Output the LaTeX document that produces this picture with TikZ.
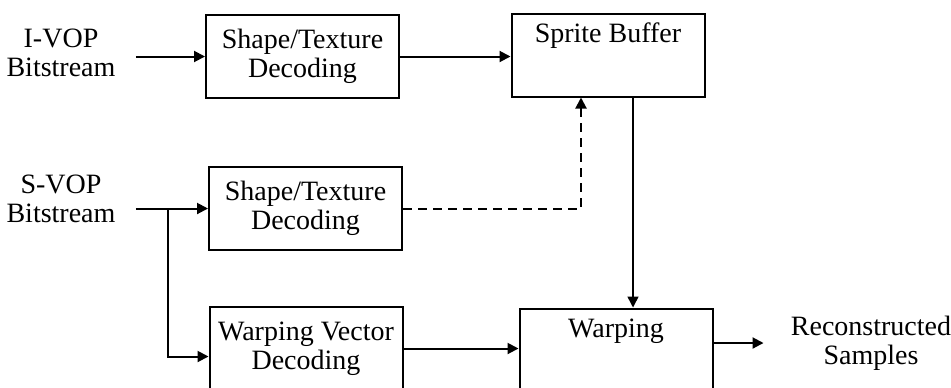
\documentclass[tikz,border=0pt]{standalone}
\usepackage{fontspec}
\setmainfont{Liberation Serif}
\usetikzlibrary{arrows.meta}

\begin{document}
\begin{tikzpicture}[x=0.5pt,y=-0.5pt,
    font=\fontsize{14}{14.5}\selectfont,
    block/.style={draw,line width=1pt,minimum width=96.5pt,minimum height=41.5pt,align=center,inner sep=0pt},
    topblock/.style={block,text height=10pt,text depth=23pt,inner ysep=4pt},
    lbl/.style={align=center,inner sep=0pt},
    arr/.style={line width=1pt,-{Triangle[length=5.5pt,width=5.5pt]}}]

    \useasboundingbox (0,0) rectangle (951,387);
    \clip (0,0) rectangle (951,387);

    % inputs
    \node [lbl] (ivop) at (61,53) {I-VOP\\Bitstream};
    \node [lbl] (svop) at (61,199) {S-VOP\\Bitstream};

    % blocks
    \node [block] (shapeI) at (302.5,56.5) {Shape/Texture\\Decoding};
    \node [topblock] (sprite) at (608,55) {Sprite Buffer};
    \node [block] (shapeS) at (305.5,208.5) {Shape/Texture\\Decoding};
    \node [block] (warpvec) at (306,348.5) {Warping Vector\\Decoding};
    \node [topblock] (warp) at (616,350) {Warping};

    % output
    \node [lbl] (recon) at (871,343) {Reconstructed\\Samples};

    % I-VOP path
    \draw [arr,shorten <=10pt] (ivop.east |- shapeI.west) -- (shapeI.west);
    \draw [arr] (shapeI.east) -- (shapeI.east -| sprite.west);

    % S-VOP path
    \coordinate (split) at (168,208);
    \draw [arr,shorten <=10pt] (svop.east |- shapeS.west) -- (shapeS.west);
    \draw [arr] (split) |- ([yshift=-4pt]warpvec.west);
    \draw [arr,dashed,dash pattern=on 4.5pt off 3pt] (shapeS.east) -| ([xshift=-13.5pt]sprite.south);

    % warping
    \draw [arr,line width=0.75pt] ([xshift=12.5pt]sprite.south) -- ([xshift=12.5pt]sprite.south |- warp.north);
    \draw [arr] (warpvec.east) -- (warpvec.east -| warp.west);
    \draw [arr,shorten >=13.5pt] (warp.east |- recon.west) -- (recon.west);

\end{tikzpicture}
\end{document}
